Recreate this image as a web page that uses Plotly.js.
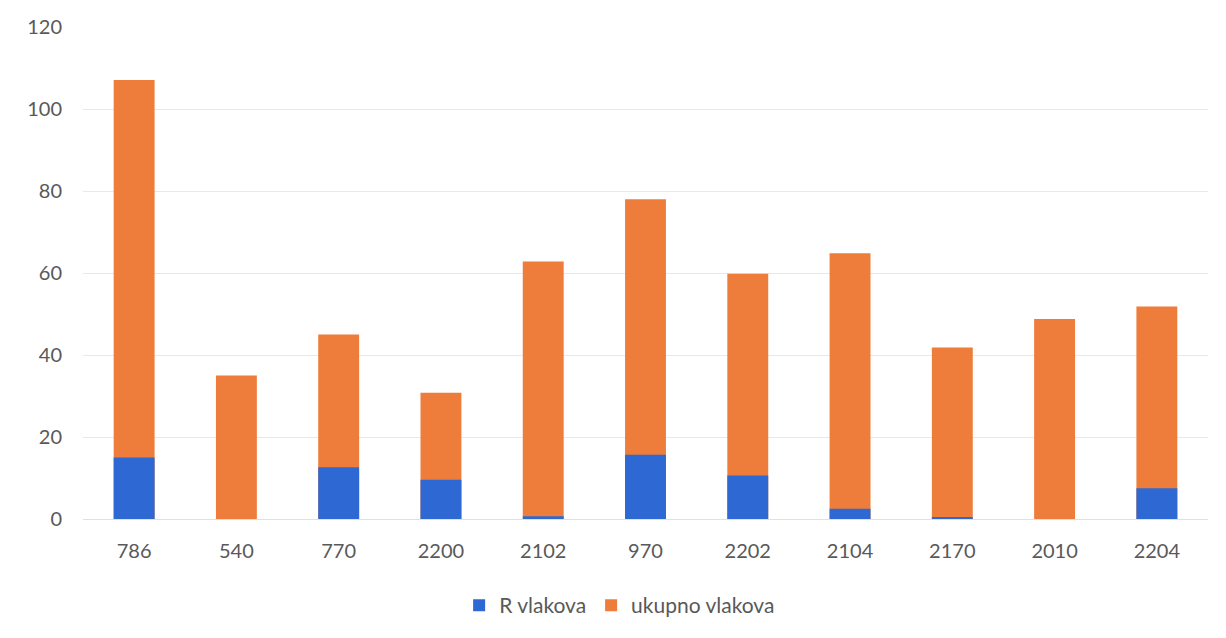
<!DOCTYPE html>
<html>
<head>
<meta charset="utf-8">
<script src="https://cdn.plot.ly/plotly-3.0.1.min.js"></script>
<style>html,body{margin:0;padding:0;background:#fff;}#chart{width:1226px;height:638px;}</style>
</head>
<body>
<div id="chart"></div>
<script>
const categories = ["786","540","770","2200","2102","970","2202","2104","2170","2010","2204"];
const rVlakova = [15, 0, 12.6, 9.6, 0.7, 15.7, 10.6, 2.5, 0.5, 0, 7.5];
const ukupnoVlakova = [107.1, 35, 45, 30.8, 62.8, 78, 59.8, 64.8, 41.8, 48.8, 51.8];
const yTicks = [0, 20, 40, 60, 80, 100, 120];

const font = {family: "Lato, 'Open Sans', sans-serif", size: 20, color: "#595959"};

const data = [
  {type: "bar", name: "ukupno vlakova", x: categories, y: ukupnoVlakova,
   marker: {color: "#ee7d3b"}, hoverinfo: "x+y+name"},
  {type: "bar", name: "R vlakova", x: categories, y: rVlakova,
   marker: {color: "#2e68d3"}, hoverinfo: "x+y+name"}
];

const layout = {
  width: 1226, height: 638,
  margin: {l: 83, r: 18, t: 27, b: 119},
  paper_bgcolor: "#ffffff", plot_bgcolor: "#ffffff",
  barmode: "overlay", bargap: 0.6,
  font: font,
  xaxis: {type: "category", showgrid: false, zeroline: false, showline: false,
          ticks: "", tickfont: font, ticklabelstandoff: 18},
  yaxis: {range: [0, 120], tickvals: yTicks, showgrid: true, gridcolor: "#e8e8e8", gridwidth: 1,
          zeroline: true, zerolinecolor: "#e0e0e0", zerolinewidth: 1, showline: false,
          ticks: "", tickfont: font, ticklabelstandoff: 20},
  showlegend: true,
  legend: {orientation: "h", traceorder: "reversed", x: 0.477, xanchor: "center",
           y: -0.176, yanchor: "middle", font: {family: font.family, size: 21, color: "#595959"},
           itemwidth: 30}
};

Plotly.newPlot("chart", data, layout, {displayModeBar: false, staticPlot: true});
</script>
</body>
</html>
